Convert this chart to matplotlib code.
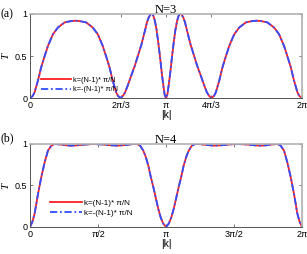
import numpy as np
import matplotlib
matplotlib.use("Agg")
import matplotlib.pyplot as plt

# --- datos (k en unidades de pi) ---
k3 = [0.000, 0.020, 0.034, 0.059, 0.083, 0.108, 0.132, 0.169, 0.206, 0.255, 0.300,
      0.333, 0.367, 0.412, 0.461, 0.498, 0.535, 0.559, 0.584, 0.608, 0.633, 0.647,
      0.667, 0.685, 0.700, 0.720, 0.745, 0.772, 0.795, 0.820, 0.845, 0.860, 0.872,
      0.882, 0.890, 0.896, 0.902, 0.908, 0.918, 0.931, 0.944, 0.956, 0.968, 0.980, 0.990,
      1.000, 1.010, 1.020, 1.032, 1.044, 1.056, 1.069, 1.082, 1.092, 1.098, 1.104,
      1.110, 1.118, 1.128, 1.140, 1.155, 1.180, 1.205, 1.228, 1.255, 1.280, 1.300, 1.315,
      1.333, 1.353, 1.367, 1.392, 1.416, 1.441, 1.465, 1.502, 1.539, 1.588, 1.633,
      1.667, 1.700, 1.745, 1.794, 1.831, 1.868, 1.892, 1.917, 1.941, 1.966, 1.980,
      2.000]
T3 = [0.00, 0.025, 0.07, 0.21, 0.37, 0.50, 0.62, 0.76, 0.84, 0.90, 0.915,
      0.92, 0.915, 0.90, 0.84, 0.76, 0.62, 0.50, 0.37, 0.21, 0.07, 0.025,
      0.00, 0.03, 0.07, 0.155, 0.27, 0.39, 0.51, 0.64, 0.80, 0.90, 0.955,
      0.985, 0.998, 1.00, 0.995, 0.975, 0.92, 0.81, 0.65, 0.49, 0.31, 0.155, 0.04,
      0.00, 0.04, 0.155, 0.31, 0.49, 0.65, 0.81, 0.92, 0.975, 0.995, 1.00,
      0.998, 0.985, 0.955, 0.90, 0.80, 0.64, 0.51, 0.39, 0.27, 0.155, 0.07, 0.03,
      0.00, 0.025, 0.07, 0.21, 0.37, 0.50, 0.62, 0.76, 0.84, 0.90, 0.915,
      0.92, 0.915, 0.90, 0.84, 0.76, 0.62, 0.50, 0.37, 0.21, 0.07, 0.025,
      0.00]

k4 = [0.000, 0.017, 0.034, 0.059, 0.083, 0.108, 0.132, 0.157, 0.180, 0.220,
      0.260, 0.300, 0.340, 0.400, 0.470, 0.530, 0.590, 0.645, 0.700, 0.750,
      0.784, 0.810, 0.833, 0.850, 0.870, 0.890, 0.907, 0.925, 0.943, 0.962,
      0.980, 1.000, 1.020, 1.038, 1.057, 1.075, 1.093, 1.110, 1.130, 1.150,
      1.167, 1.190, 1.216, 1.250, 1.300, 1.355, 1.410, 1.470, 1.530, 1.600,
      1.660, 1.700, 1.740, 1.780, 1.820, 1.843, 1.868, 1.892, 1.917, 1.941,
      1.966, 1.983, 2.000]
T4 = [0.00, 0.06, 0.16, 0.40, 0.60, 0.78, 0.92, 0.98, 1.00, 0.995,
      0.985, 0.98, 0.983, 0.993, 1.00, 0.995, 0.985, 0.98, 0.988, 0.998,
      1.00, 0.98, 0.92, 0.85, 0.74, 0.59, 0.48, 0.35, 0.22, 0.11,
      0.04, 0.00, 0.04, 0.11, 0.22, 0.35, 0.48, 0.59, 0.74, 0.85,
      0.92, 0.98, 1.00, 0.998, 0.988, 0.98, 0.985, 0.995, 1.00, 0.993,
      0.983, 0.98, 0.985, 0.995, 1.00, 0.98, 0.92, 0.78, 0.60, 0.40,
      0.16, 0.06, 0.00]

ticks_a = [0, 2/3, 1, 4/3, 2]
labels_a = ["0", "2\u03c0/3", "\u03c0", "4\u03c0/3", "2\u03c0"]
ticks_b = [0, 0.5, 1, 1.5, 2]
labels_b = ["0", "\u03c0/2", "\u03c0", "3\u03c0/2", "2\u03c0"]
leg_labels = ["k=(N-1)* \u03c0/N", "k=-(N-1)* \u03c0/N"]

plt.rcParams['font.family'] = ['Liberation Sans', 'DejaVu Sans']

fig = plt.figure(figsize=(3.07, 2.54), dpi=100)
ax1 = fig.add_axes([0.0977, 0.614, 0.886, 0.331])
ax2 = fig.add_axes([0.0977, 0.1063, 0.886, 0.3268])

def estilo(ax, ks, Ts, ticks, labels, title, legfs, legloc, hl):
    x = np.array(ks) * np.pi
    ax.plot(x, Ts, color='#ff2020', lw=1.3, label=leg_labels[0])
    ax.plot(x, Ts, color='#3050ff', lw=1.3, dashes=(4, 1.5, 1, 1.5), label=leg_labels[1])
    ax.set_xlim(0, 2*np.pi)
    ax.set_ylim(0, 1)
    ax.set_xticks(np.array(ticks) * np.pi)
    ax.set_xticklabels(labels)
    ax.set_yticks([0, 0.5, 1])
    ax.set_yticklabels(["0", "0.5", "1"])
    ax.tick_params(direction='in', length=2, width=0.5, labelsize=6.5, pad=2,
                   top=True, right=True, colors='#444444', labelcolor='black')
    for s in ['left', 'bottom']:
        ax.spines[s].set_color('#555555')
        ax.spines[s].set_linewidth(0.7)
    for s in ['top', 'right']:
        ax.spines[s].set_color('#b0b0b0')
        ax.spines[s].set_linewidth(1.2)
    ax.set_title(title, family='Liberation Serif', fontsize=9, pad=1)
    ax.set_xlabel("|k|", fontsize=7.5, labelpad=0)
    ax.set_ylabel("T", family='Liberation Serif', style='italic', fontsize=8, labelpad=3)
    ax.legend(loc=legloc, fontsize=legfs, frameon=False, handlelength=hl,
              handletextpad=0.3, labelspacing=0.3, borderaxespad=0.2)

estilo(ax1, k3, T3, ticks_a, labels_a, "N=3", 5.3, (0.03, 0.02), 4.0)
estilo(ax2, k4, T4, ticks_b, labels_b, "N=4", 5.8, (0.06, 0.08), 4.0)

fig.text(0.002, 0.943, "(a)", family='Liberation Serif', fontsize=8.5, ha='left', va='center')
fig.text(0.002, 0.455, "(b)", family='Liberation Serif', fontsize=8.5, ha='left', va='center')

fig.savefig("out.png", dpi=100)
